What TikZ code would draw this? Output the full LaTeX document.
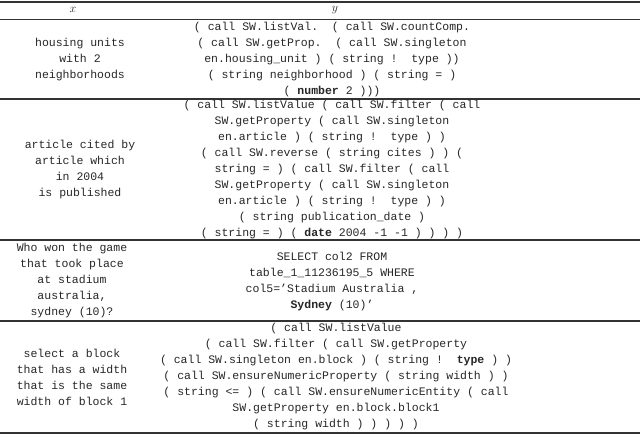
\documentclass[tikz,border=0pt]{standalone}
\usepackage{fontspec}
\setmonofont{Liberation Mono}
\begin{document}
\begin{tikzpicture}[x=1pt,y=-1pt,
  cell/.style={align=center,inner sep=0pt,text=black!85,font=\ttfamily\fontsize{11.5}{16}\selectfont},
  hrule/.style={line width=0.6pt,draw=black!80},
  thick rule/.style={line width=1.2pt,draw=black!80}]
\useasboundingbox (0,0) rectangle (640,434);
\coordinate (l0) at (0,2); \coordinate (r0) at (640,2);
\coordinate (l1) at (0,19); \coordinate (r1) at (640,19);
\coordinate (l2) at (0,99); \coordinate (r2) at (640,99);
\coordinate (l3) at (0,240); \coordinate (r3) at (640,240);
\coordinate (l4) at (0,321); \coordinate (r4) at (640,321);
\coordinate (l5) at (0,433); \coordinate (r5) at (640,433);
\draw[thick rule] (l0) -- (r0);
\draw[hrule] (l1) -- (r1);
\draw[thick rule] (l2) -- (r2);
\draw[thick rule] (l3) -- (r3);
\draw[thick rule] (l4) -- (r4);
\draw[thick rule] (l5) -- (r5);
\node[cell,font=\fontsize{12}{14}\selectfont] (hx) at (73,10) {$x$};
\node[cell,font=\fontsize{12}{14}\selectfont] (hy) at (335,10) {$y$};
\node[cell] (x1) at (80,60) {housing units\\with 2\\neighborhoods};
\node[cell] (y1) at (332,60) {( call SW.listVal.\ \ ( call SW.countComp.\\( call SW.getProp.\ \ ( call SW.singleton\\en.housing\_unit ) ( string !\ \ type ))\\( string neighborhood ) ( string = )\\( \textbf{number} 2 )))};
\node[cell] (x2) at (80,170) {article cited by\\article which\\in 2004\\is published};
\node[cell] (y2) at (332,170) {( call SW.listValue ( call SW.filter ( call\\SW.getProperty ( call SW.singleton\\en.article ) ( string !\ \ type ) )\\( call SW.reverse ( string cites ) ) (\\string = ) ( call SW.filter ( call\\SW.getProperty ( call SW.singleton\\en.article ) ( string !\ \ type ) )\\( string publication\_date )\\( string = ) ( \textbf{date} 2004 -1 -1 ) ) ) )};
\node[cell] (x3) at (72,281) {Who won the game\\that took place\\at stadium\\australia,\\sydney (10)?};
\node[cell] (y3) at (332,282) {SELECT col2 FROM\\table\_1\_11236195\_5 WHERE\\col5=’Stadium Australia ,\\\textbf{Sydney} (10)’};
\node[cell] (x4) at (72,377) {select a block\\that has a width\\that is the same\\width of block 1};
\node[cell] (y4) at (336,377) {( call SW.listValue\\( call SW.filter ( call SW.getProperty\\( call SW.singleton en.block ) ( string !\ \ \textbf{type} ) )\\( call SW.ensureNumericProperty ( string width ) )\\( string <= ) ( call SW.ensureNumericEntity ( call\\SW.getProperty en.block.block1\\( string width ) ) ) ) )};
\end{tikzpicture}
\end{document}
